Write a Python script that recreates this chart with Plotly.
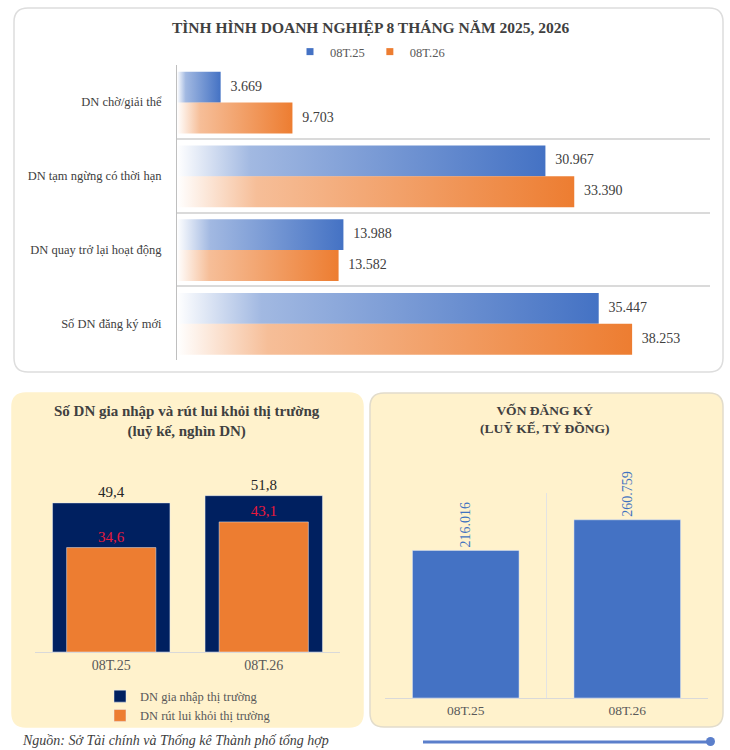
import plotly.graph_objects as go

# Biểu đồ trên / top chart
categories = ["DN chờ/giải thể", "DN tạm ngừng có thời hạn", "DN quay trở lại hoạt động", "Số DN đăng ký mới"]
series_names = ["08T.25", "08T.26"]
values_25 = [3669, 30967, 13988, 35447]
values_26 = [9703, 33390, 13582, 38253]

# Biểu đồ dưới trái / bottom left (nghìn DN)
periods = ["08T.25", "08T.26"]
gia_nhap = [49.4, 51.8]
rut_lui = [34.6, 43.1]
left_names = ["DN gia nhập thị trường", "DN rút lui khỏi thị trường"]

# Biểu đồ dưới phải / bottom right (tỷ đồng)
von_dang_ky = [216016, 260759]

W, H = 730, 750
FONT = "Liberation Serif"
BLUE = "#4472C4"
ORANGE = "#ED7D31"
NAVY = "#002060"


def px(x):
    return x / W


def py(y):
    return 1 - y / H


def card(x0, y0, x1, y1, r, fill, line):
    # khung bo góc / rounded panel, in pixels converted to paper
    path = (
        f"M {px(x0 + r)},{py(y0)} L {px(x1 - r)},{py(y0)} Q {px(x1)},{py(y0)} {px(x1)},{py(y0 + r)} "
        f"L {px(x1)},{py(y1 - r)} Q {px(x1)},{py(y1)} {px(x1 - r)},{py(y1)} "
        f"L {px(x0 + r)},{py(y1)} Q {px(x0)},{py(y1)} {px(x0)},{py(y1 - r)} "
        f"L {px(x0)},{py(y0 + r)} Q {px(x0)},{py(y0)} {px(x0 + r)},{py(y0)} Z"
    )
    return dict(type="path", xref="paper", yref="paper", path=path, fillcolor=fill,
                line=dict(color=line, width=1.5), layer="below")


def font(size, color="#404040"):
    return dict(family=FONT, size=size, color=color)


fig = go.Figure()

# --- thanh ngang có gradient / gradient horizontal bars ---
bar_h = 0.42
for s, (name, vals, rgb) in enumerate(zip(series_names, [values_25, values_26], ["68,114,196", "237,125,49"])):
    for k, v in enumerate(vals):
        y0 = k - bar_h + s * bar_h + 0.01
        y1 = y0 + bar_h
        fig.add_trace(go.Scatter(
            x=[0, v, v, 0, 0], y=[y0, y0, y1, y1, y0],
            mode="lines", fill="toself", line=dict(width=0),
            fillgradient=dict(type="horizontal", colorscale=[
                [0, f"rgba({rgb},0.0)"], [0.2, f"rgba({rgb},0.5)"], [1, f"rgba({rgb},1)"]]),
            hoverinfo="skip", showlegend=False, xaxis="x", yaxis="y",
        ))
    fig.add_trace(go.Scatter(
        x=vals, y=[k - bar_h / 2 + s * bar_h + 0.01 for k in range(len(vals))],
        mode="markers+text", marker=dict(size=14, color="rgba(0,0,0,0)"),
        texttemplate="%{x:,}", textposition="middle right",
        textfont=font(14),
        showlegend=False, xaxis="x", yaxis="y",
    ))
    # chú giải / legend entry
    fig.add_trace(go.Scatter(
        x=[None], y=[None], mode="markers", name=name,
        marker=dict(symbol="square", size=7, color=[BLUE, ORANGE][s]),
        xaxis="x", yaxis="y", legend="legend",
    ))

# --- cột chồng / overlay columns ---
fig.add_trace(go.Bar(
    x=[0, 1], y=gia_nhap, width=0.77, name=left_names[0], marker_color=NAVY,
    texttemplate="%{y:.1f}", textposition="outside", cliponaxis=False,
    textfont=font(15, "#262626"),
    xaxis="x2", yaxis="y2", legend="legend2",
))
fig.add_trace(go.Bar(
    x=[0, 1], y=rut_lui, width=0.585, name=left_names[1], marker_color=ORANGE,
    texttemplate="%{y:.1f}", textposition="outside", cliponaxis=False,
    textfont=font(15, "#E8193C"),
    xaxis="x2", yaxis="y2", legend="legend2",
))

# --- vốn đăng ký ---
fig.add_trace(go.Bar(
    x=[0, 1], y=von_dang_ky, width=0.66, marker_color=BLUE, showlegend=False,
    texttemplate="%{y:,}", textposition="outside", textangle=-90, cliponaxis=False,
    constraintext="none", textfont=font(14, "#3F72C0"),
    xaxis="x3", yaxis="y3",
))

shapes = [
    card(14, 8, 723, 372, 14, "white", "#DDDDDD"),
    card(12, 393, 363, 727, 14, "#FFF2CC", "#FFF2CC"),
    card(370, 393, 723, 727, 14, "#FFF2CC", "#E2DCCB"),
    dict(type="line", xref="paper", yref="paper", x0=px(423), x1=px(708), y0=py(742), y1=py(742),
         line=dict(color="#5B7FCB", width=3)),
    dict(type="circle", xref="paper", yref="paper", x0=px(706), x1=px(715), y0=py(746), y1=py(737),
         fillcolor="#5B7FCB", line=dict(width=0)),
]

annotations = [
    dict(text="<b>TÌNH HÌNH DOANH NGHIỆP 8 THÁNG NĂM 2025, 2026</b>", x=px(370), y=py(27),
         font=font(15.5)),
    dict(text="<b>Số DN gia nhập và rút lui khỏi thị trường<br>(luỹ kế, nghìn DN)</b>", x=px(187), y=py(421),
         font=font(15)),
    dict(text="<b>VỐN ĐĂNG KÝ<br>(LUỸ KẾ, TỶ ĐỒNG)</b>", x=px(545), y=py(419),
         font=font(13.5)),
    dict(text="<i>Nguồn: Sở Tài chính và Thống kê Thành phố tổng hợp</i>", x=px(20), y=py(740), xanchor="left",
         font=font(14)),
]
for a in annotations:
    a.update(xref="paper", yref="paper", showarrow=False, yanchor="middle",
             xanchor=a.get("xanchor", "center"))

fig.update_layout(
    width=W, height=H,
    margin=dict(l=0, r=0, t=0, b=0),
    paper_bgcolor="white", plot_bgcolor="rgba(0,0,0,0)",
    font=font(12.5),
    separators=",.",
    barmode="overlay",
    shapes=shapes, annotations=annotations,
    xaxis=dict(domain=[px(177), px(710)], range=[0, 44800], visible=False, anchor="y"),
    yaxis=dict(
        domain=[py(360), py(65)], range=[3.5, -0.5], anchor="x",
        tickvals=list(range(len(categories))), ticktext=categories,
        showgrid=False, zeroline=False, showline=True, linecolor="#BFBFBF", linewidth=1,
        ticks="", ticklabelstandoff=12, tickfont=font(12.5),
        minor=dict(tickvals=[-0.5, 0.5, 1.5, 2.5, 3.5], showgrid=True, gridcolor="#DADADA", gridwidth=2),
    ),
    xaxis2=dict(
        domain=[px(35), px(340)], range=[-0.5, 1.5], anchor="y2",
        tickvals=[0, 1], ticktext=periods, showgrid=False, zeroline=False,
        showline=True, linecolor="#D9D9D9", linewidth=1, ticks="",
        tickfont=font(14, "#595959"),
    ),
    yaxis2=dict(domain=[py(652), py(470)], range=[0, 60.3], visible=False, anchor="x2"),
    xaxis3=dict(
        domain=[px(385), px(708)], range=[-0.5, 1.5], anchor="y3",
        tickvals=[0, 1], ticktext=periods, showgrid=False, zeroline=False,
        showline=True, linecolor="#D9D9D9", linewidth=1, ticks="",
        tickfont=font(13.5, "#595959"),
        minor=dict(tickvals=[-0.5, 0.5, 1.5], showgrid=True, gridcolor="#E3E3E3", gridwidth=1),
    ),
    yaxis3=dict(domain=[py(698), py(493)], range=[0, 300000], visible=False, anchor="x3"),
    legend=dict(orientation="h", x=px(370), xanchor="center", y=py(52), yanchor="middle",
                itemwidth=30, bgcolor="rgba(0,0,0,0)", font=font(12.5, "#595959")),
    legend2=dict(orientation="v", x=px(100), xanchor="left", y=py(706), yanchor="middle",
                 itemwidth=30, bgcolor="rgba(0,0,0,0)", font=font(12.5, "#595959")),
)

# bỏ lề trang mặc định, ẩn thanh công cụ / remove default page margin, hide modebar
fig.write_html("out.html", config={"displayModeBar": False},
               post_script="document.body.style.margin='0';")
